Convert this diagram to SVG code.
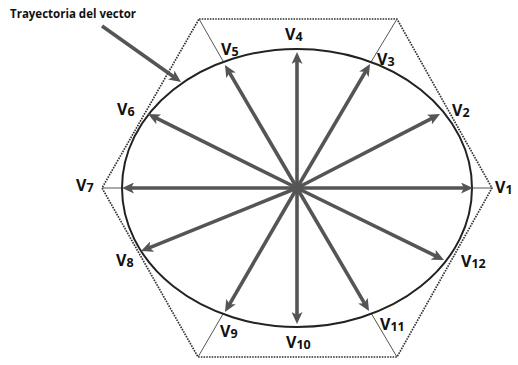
<svg xmlns="http://www.w3.org/2000/svg" width="518" height="365" viewBox="0 0 518 365">
<style>
.hex{fill:none;stroke:#333;stroke-width:1.7;stroke-dasharray:1.6 1.1}
.thin{stroke:#555;stroke-width:1}
.ell{fill:none;stroke:#222;stroke-width:2}
.vec{stroke:#555;stroke-width:3.6;marker-end:url(#ah)}
.lbl{font-family:"Open Sans","Liberation Sans",sans-serif;font-weight:bold;font-size:16px;fill:#111}
.sub{font-size:12.5px}
.note{font-family:"Open Sans","Liberation Sans",sans-serif;font-weight:bold;font-size:11.5px;fill:#111}
</style>
<defs>
<marker id="ah" markerUnits="userSpaceOnUse" markerWidth="12" markerHeight="11" refX="6" refY="5.5" orient="auto">
<path d="M0,0 L12,5.5 L0,11 L3,5.5 z" fill="#555"/>
</marker>
</defs>
<g id="hexagon">
<polygon class="hex" points="199,19 397,19 492,188 397,357 198,357 102,188"/>
</g>
<g id="thin-lines">
<line class="thin" x1="199" y1="19" x2="223" y2="61"/>
<line class="thin" x1="397" y1="19" x2="371" y2="62"/>
<line class="thin" x1="492" y1="188" x2="472" y2="188"/>
<line class="thin" x1="102" y1="188" x2="122" y2="188"/>
<line class="thin" x1="198" y1="357" x2="223" y2="314"/>
<line class="thin" x1="397" y1="357" x2="371" y2="313"/>
</g>
<g id="trajectory">
<ellipse class="ell" cx="297" cy="188" rx="175" ry="139"/>
</g>
<g id="connectors">
<line class="vec" x1="297" y1="188" x2="467" y2="188"/>
<line class="vec" x1="297" y1="188" x2="434.7" y2="116.8"/>
<line class="vec" x1="297" y1="188" x2="367" y2="69.2"/>
<line class="vec" x1="297" y1="188" x2="297" y2="58"/>
<line class="vec" x1="297" y1="188" x2="228" y2="70.2"/>
<line class="vec" x1="297" y1="188" x2="153.4" y2="116.7"/>
<line class="vec" x1="297" y1="188" x2="128" y2="188"/>
<line class="vec" x1="297" y1="188" x2="146.6" y2="248.8"/>
<line class="vec" x1="297" y1="188" x2="228" y2="306.8"/>
<line class="vec" x1="297" y1="188" x2="297" y2="318"/>
<line class="vec" x1="297" y1="188" x2="366" y2="305.8"/>
<line class="vec" x1="297" y1="188" x2="438.6" y2="257.4"/>
<line class="vec" x1="102" y1="26" x2="176.1" y2="78.5"/>
<circle cx="297" cy="188" r="4" fill="#555"/>
</g>
<g id="label-note"><text class="note" x="10" y="18">Trayectoria del vector</text></g>
<g id="V1"><text class="lbl" x="495" y="193">V<tspan class="sub" dy="1">1</tspan></text></g>
<g id="V2"><text class="lbl" x="452" y="116">V<tspan class="sub" dy="1">2</tspan></text></g>
<g id="V3"><text class="lbl" x="377" y="65">V<tspan class="sub" dy="1">3</tspan></text></g>
<g id="V4"><text class="lbl" x="285" y="40">V<tspan class="sub" dy="1">4</tspan></text></g>
<g id="V5"><text class="lbl" x="221" y="55">V<tspan class="sub" dy="1">5</tspan></text></g>
<g id="V6"><text class="lbl" x="117" y="115">V<tspan class="sub" dy="1">6</tspan></text></g>
<g id="V7"><text class="lbl" x="76" y="191">V<tspan class="sub" dy="1">7</tspan></text></g>
<g id="V8"><text class="lbl" x="116" y="266">V<tspan class="sub" dy="1">8</tspan></text></g>
<g id="V9"><text class="lbl" x="220" y="337">V<tspan class="sub" dy="1">9</tspan></text></g>
<g id="V10"><text class="lbl" x="286" y="348">V<tspan class="sub" dy="1">10</tspan></text></g>
<g id="V11"><text class="lbl" x="380" y="330">V<tspan class="sub" dy="1">11</tspan></text></g>
<g id="V12"><text class="lbl" x="461" y="267">V<tspan class="sub" dy="1">12</tspan></text></g>
</svg>
